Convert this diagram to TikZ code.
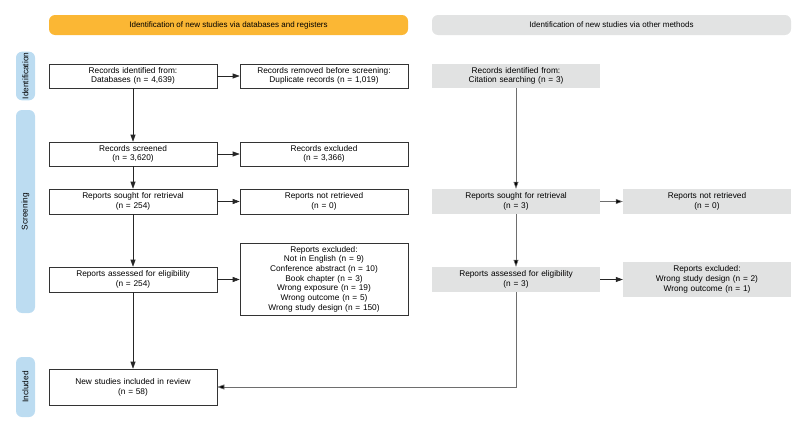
\documentclass[tikz,border=0pt]{standalone}
\usepackage{fontspec}
\setmainfont{Liberation Sans}
\usetikzlibrary{arrows.meta}
\definecolor{bannery}{RGB}{251,183,52}
\definecolor{bannerg}{RGB}{226,227,227}
\definecolor{boxg}{RGB}{225,226,226}
\definecolor{sideb}{RGB}{188,220,241}
\definecolor{lineg}{RGB}{110,110,110}
\begin{document}
\begin{tikzpicture}[x=1pt,y=-1pt,
  every node/.style={font=\fontsize{8.3}{9.7}\selectfont, align=center, inner sep=1pt},
  wbox/.style={draw=black!80, line width=0.6pt, fill=white, minimum width=168pt, text width=164pt},
  gbox/.style={fill=boxg, minimum width=168pt, text width=164pt},
  banner/.style={rounded corners=6pt, minimum width=359pt, minimum height=20pt, font=\fontsize{8}{9.7}\selectfont},
  side/.style={fill=sideb, rounded corners=6pt, minimum height=19pt, rotate=90},
  arr/.style={line width=0.6pt, draw=black!85, -{Triangle[length=7pt,width=5pt]}},
  garr/.style={line width=0.6pt, draw=lineg, -{Triangle[length=7pt,width=5pt,fill=black]}}
]
\useasboundingbox (0,0) rectangle (807,431);
% banners
\node[banner, fill=bannery] (b1) at (228.5,25) {Identification of new studies via databases and registers};
\node[banner, fill=bannerg] (b2) at (611.5,25) {Identification of new studies via other methods};
% side labels
\node[side, minimum width=36pt] (s1) at (25.5,76) {Identification};
\node[side, minimum width=203pt] (s2) at (25.5,211.5) {Screening};
\node[side, minimum width=60pt] (s3) at (25.5,387) {Included};
% left column
\node[wbox, minimum height=24pt] (id) at (133,76) {Records identified from:\\Databases (n = 4,639)};
\node[wbox, minimum height=24pt] (rm) at (324,76) {Records removed before screening:\\Duplicate records (n = 1,019)};
\node[wbox, minimum height=24pt] (sc) at (133,154) {Records screened\\(n = 3,620)};
\node[wbox, minimum height=24pt] (ex) at (324,154) {Records excluded\\(n = 3,366)};
\node[wbox, minimum height=25pt] (so) at (133,201.5) {Reports sought for retrieval\\(n = 254)};
\node[wbox, minimum height=25pt] (nr) at (324,201.5) {Reports not retrieved\\(n = 0)};
\node[wbox, minimum height=25pt] (as) at (133,279.5) {Reports assessed for eligibility\\(n = 254)};
\node[wbox, minimum height=72pt] (re) at (324,279) {Reports excluded:\\Not in English (n = 9)\\Conference abstract (n = 10)\\Book chapter (n = 3)\\Wrong exposure (n = 19)\\Wrong outcome (n = 5)\\Wrong study design (n = 150)};
\node[wbox, minimum height=36pt] (inc) at (133,387) {New studies included in review\\(n = 58)};
% right column
\node[gbox, minimum height=24pt] (cit) at (516,76) {Records identified from:\\Citation searching (n = 3)};
\node[gbox, minimum height=25pt] (so2) at (516,201.5) {Reports sought for retrieval\\(n = 3)};
\node[gbox, minimum height=25pt] (nr2) at (707,201.5) {Reports not retrieved\\(n = 0)};
\node[gbox, minimum height=25pt] (as2) at (516,279.5) {Reports assessed for eligibility\\(n = 3)};
\node[gbox, minimum height=35pt] (re2) at (707,279.5) {Reports excluded:\\Wrong study design (n = 2)\\Wrong outcome (n = 1)};
% connectors left
\draw[arr] (id) -- (sc);
\draw[arr] (sc) -- (so);
\draw[arr] (so) -- (as);
\draw[arr] (as) -- (inc);
\draw[arr] (id) -- (rm);
\draw[arr] (sc) -- (ex);
\draw[arr] (so) -- (nr);
\draw[arr] (as.east) -- (as.east -| re.west);
% connectors right
\draw[garr] (cit) -- (so2);
\draw[garr] (so2) -- (as2);
\draw[garr] (so2) -- (nr2);
\draw[arr] (as2) -- (re2);
\draw[garr] (as2.south) |- (inc.east);
\end{tikzpicture}
\end{document}
